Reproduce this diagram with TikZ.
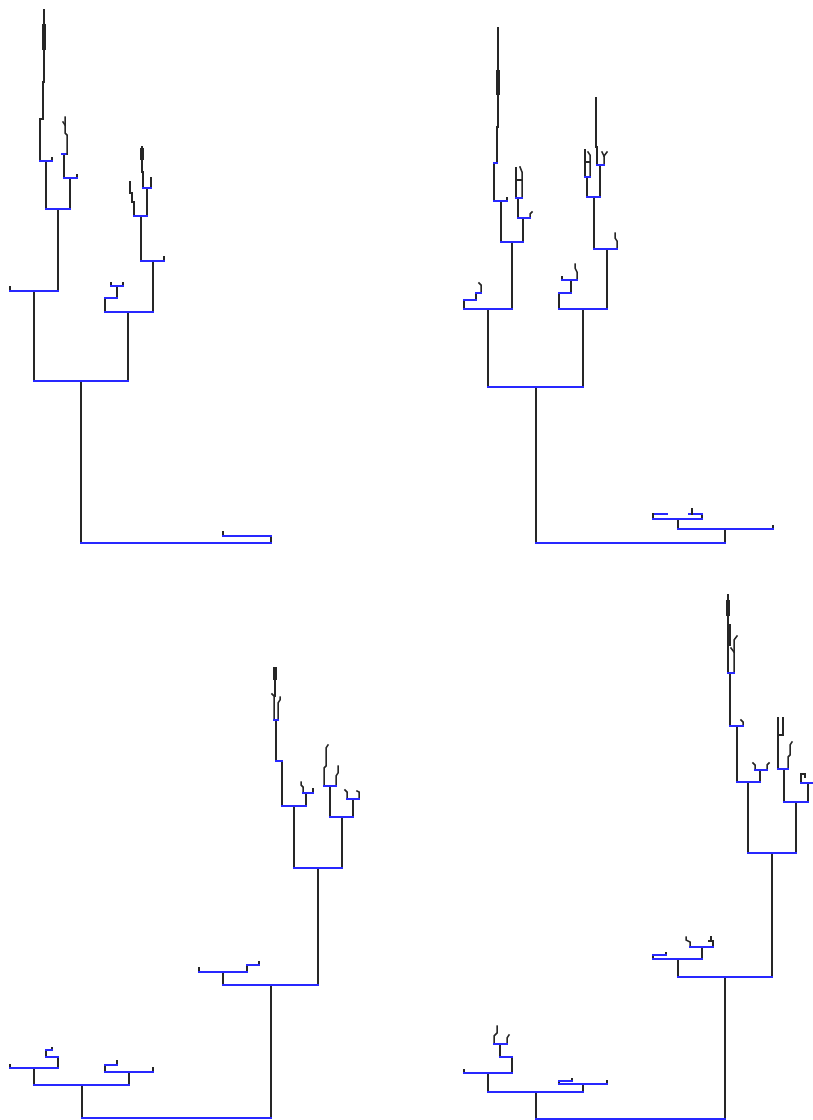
\documentclass[tikz,border=0pt]{standalone}
\definecolor{treeblue}{RGB}{40,40,255}
\tikzset{
  vl/.style={draw=black!85, line width=1.5pt, line cap=rect},
  hl/.style={draw=treeblue, line width=1.5pt, line cap=rect},
  dense/.style={draw=black!85, line width=3.2pt}
}
\newcommand\hseg[3]{\draw[hl] (#2,#1) -- (#3,#1);}
\newcommand\vseg[3]{\draw[vl] (#1,#2) -- (#1,#3);}
\begin{document}
\begin{tikzpicture}[x=1pt,y=-1pt]
\useasboundingbox (0,0) rectangle (812,1120);
\fill[white] (0,0) rectangle (812,1120);

% ================= Panel 1 (top left) =================
\vseg{81}{543}{381}
\vseg{271}{543}{536}
\vseg{223}{536}{532}
\hseg{536}{223}{271}
\hseg{543}{81}{271}
% left branch
\vseg{34}{381}{291}
\vseg{128}{381}{312}
\hseg{381}{34}{128}
\vseg{10}{291}{287}
\vseg{58}{291}{209}
\hseg{291}{10}{58}
\vseg{46}{209}{161}
\vseg{70}{209}{178}
\hseg{209}{46}{70}
\vseg{52}{161}{158}
\vseg{40}{161}{119}
\hseg{161}{40}{52}
\draw[vl] (40,119) -- (43,119) -- (43,82) -- (44,82) -- (44,10);
\draw[dense] (44,24) -- (44,50);
\vseg{77}{178}{175}
\vseg{64}{178}{154}
\hseg{178}{64}{77}
\hseg{154}{62}{67}
\draw[vl] (67,154) -- (67,135) -- (65,133) -- (65,117);
\draw[vl] (65,125) -- (63,122);
% right branch of panel 1
\vseg{105}{312}{298}
\vseg{153}{312}{261}
\hseg{312}{105}{153}
\vseg{117}{298}{286}
\hseg{298}{105}{117}
\vseg{111}{286}{283}
\vseg{123}{286}{283}
\hseg{286}{111}{123}
\vseg{164}{261}{257}
\vseg{141}{261}{216}
\hseg{261}{141}{164}
\draw[vl] (134,216) -- (134,202) -- (132,202) -- (132,193) -- (130,193) -- (130,182);
\vseg{147}{216}{188}
\hseg{216}{134}{147}
\vseg{151}{188}{178}
\draw[vl] (143,188) -- (143,172) -- (142,172) -- (142,147);
\draw[dense] (142,148) -- (142,160);
\hseg{188}{143}{151}

% ================= Panel 2 (top right) =================
\vseg{536}{543}{387}
\vseg{725}{543}{529}
\hseg{543}{536}{725}
\vseg{773}{529}{526}
\vseg{678}{529}{519}
\hseg{529}{678}{773}
\vseg{653}{519}{514}
\vseg{702}{519}{514}
\hseg{519}{653}{702}
\hseg{514}{655}{667}
\hseg{514}{689}{702}
\vseg{692}{514}{509}
% left A2
\vseg{488}{387}{309}
\vseg{583}{387}{309}
\hseg{387}{488}{583}
\draw[vl] (464,309) -- (464,300);
\draw[vl] (476,300) -- (476,293);
\draw[vl] (481,293) -- (481,285) -- (479,283);
\hseg{300}{464}{476}
\hseg{293}{476}{481}
\vseg{512}{309}{242}
\hseg{309}{464}{512}
\vseg{501}{242}{201}
\vseg{523}{242}{218}
\hseg{242}{501}{523}
\vseg{507}{201}{198}
\vseg{494}{201}{163}
\hseg{201}{494}{507}
\draw[vl] (497,163) -- (497,127) -- (498,127) -- (498,28);
\hseg{163}{494}{497}
\draw[dense] (498,70) -- (498,95);
\draw[vl] (530,218) -- (530,214) -- (532,212);
\vseg{518}{218}{198}
\hseg{218}{518}{530}
\draw[vl] (516,198) -- (516,168);
\draw[vl] (522,198) -- (522,172) -- (520,167);
\draw[vl] (516,180) -- (522,180);
\hseg{198}{516}{522}
% right B2
\vseg{559}{309}{293}
\vseg{607}{309}{249}
\hseg{309}{559}{607}
\vseg{571}{293}{280}
\hseg{293}{559}{571}
\vseg{562}{280}{277}
\draw[vl] (577,280) -- (577,272) -- (575,268) -- (575,264);
\hseg{280}{562}{577}
\draw[vl] (617,249) -- (617,241) -- (615,238) -- (615,233);
\vseg{594}{249}{197}
\hseg{249}{594}{617}
\vseg{587}{197}{177}
\vseg{600}{197}{165}
\hseg{197}{587}{600}
\draw[vl] (585,177) -- (585,150);
\draw[vl] (590,177) -- (590,155) -- (588,152);
\draw[vl] (585,162) -- (590,162);
\hseg{177}{585}{590}
\draw[vl] (597,165) -- (597,147) -- (596,147) -- (596,98);
\draw[vl] (604,165) -- (604,156) -- (602,152);
\draw[vl] (604,156) -- (607,152);
\hseg{165}{597}{604}

% ================= Panel 3 (bottom left) =================
\vseg{82}{1118}{1085}
\vseg{271}{1118}{985}
\hseg{1118}{82}{271}
\vseg{34}{1085}{1068}
\vseg{129}{1085}{1072}
\hseg{1085}{34}{129}
\vseg{10}{1068}{1065}
\vseg{58}{1068}{1057}
\hseg{1068}{10}{58}
\vseg{46}{1057}{1050}
\hseg{1057}{46}{58}
\vseg{52}{1050}{1048}
\hseg{1050}{46}{52}
\vseg{153}{1072}{1068}
\vseg{105}{1072}{1065}
\hseg{1072}{105}{153}
\vseg{117}{1065}{1061}
\hseg{1065}{105}{117}
\vseg{223}{985}{972}
\vseg{318}{985}{868}
\hseg{985}{223}{318}
\vseg{199}{972}{968}
\vseg{247}{972}{965}
\hseg{972}{199}{247}
\vseg{259}{965}{962}
\hseg{965}{247}{259}
\vseg{294}{868}{806}
\vseg{342}{868}{817}
\hseg{868}{294}{342}
\vseg{282}{806}{761}
\vseg{306}{806}{793}
\hseg{806}{282}{306}
\vseg{276}{761}{720}
\hseg{761}{276}{282}
\draw[vl] (274,720) -- (274,696) -- (272,694);
\draw[vl] (275,696) -- (275,668);
\draw[dense] (275,667) -- (275,680);
\draw[vl] (278,720) -- (278,703) -- (280,700) -- (280,697);
\hseg{720}{274}{278}
\draw[vl] (303,793) -- (303,787) -- (301,785) -- (301,782);
\vseg{313}{793}{789}
\hseg{793}{303}{313}
\vseg{330}{817}{786}
\vseg{353}{817}{799}
\hseg{817}{330}{353}
\draw[vl] (324,786) -- (324,768) -- (326,766) -- (326,748) -- (328,745);
\draw[vl] (336,786) -- (336,776) -- (338,773) -- (338,766);
\hseg{786}{324}{336}
\draw[vl] (347,799) -- (347,792) -- (345,790);
\draw[vl] (359,799) -- (359,792) -- (357,791);
\hseg{799}{347}{359}

% ================= Panel 4 (bottom right) =================
\vseg{536}{1119}{1092}
\vseg{725}{1119}{977}
\hseg{1119}{536}{725}
\vseg{488}{1092}{1073}
\vseg{583}{1092}{1084}
\hseg{1092}{488}{583}
\vseg{464}{1073}{1070}
\vseg{512}{1073}{1057}
\hseg{1073}{464}{512}
\vseg{500}{1057}{1044}
\hseg{1057}{500}{512}
\draw[vl] (494,1044) -- (494,1036) -- (497,1033) -- (497,1026);
\draw[vl] (507,1044) -- (507,1038) -- (509,1035);
\hseg{1044}{494}{507}
\vseg{607}{1084}{1081}
\vseg{559}{1084}{1081}
\hseg{1084}{559}{607}
\vseg{572}{1081}{1079}
\hseg{1081}{559}{572}
\vseg{678}{977}{959}
\vseg{772}{977}{853}
\hseg{977}{678}{772}
\vseg{653}{959}{955}
\vseg{702}{959}{947}
\hseg{959}{653}{702}
\vseg{666}{955}{953}
\hseg{955}{653}{666}
\draw[vl] (690,947) -- (690,942) -- (686,940) -- (686,937);
\draw[vl] (713,947) -- (713,941) -- (709,941);
\draw[vl] (711,941) -- (711,937);
\hseg{947}{690}{713}
\vseg{748}{853}{782}
\vseg{796}{853}{802}
\hseg{853}{748}{796}
\vseg{737}{782}{726}
\vseg{760}{782}{770}
\hseg{782}{737}{760}
\draw[vl] (743,726) -- (743,722) -- (741,720);
\vseg{730}{726}{673}
\hseg{726}{730}{743}
\draw[vl] (728,673) -- (728,595);
\draw[dense] (729,624) -- (729,646);
\draw[dense] (728,600) -- (728,616);
\draw[vl] (734,673) -- (734,640) -- (737,636);
\draw[vl] (734,652) -- (731,648);
\hseg{673}{728}{734}
\draw[vl] (755,770) -- (755,765) -- (753,763);
\draw[vl] (767,770) -- (767,765) -- (769,763);
\hseg{770}{755}{767}
\vseg{784}{802}{769}
\vseg{808}{802}{783}
\hseg{802}{784}{808}
\draw[vl] (778,769) -- (778,718);
\draw[vl] (783,735) -- (783,718);
\draw[vl] (778,735) -- (783,735);
\draw[vl] (788,769) -- (788,757) -- (790,755) -- (790,745) -- (792,742);
\hseg{769}{778}{788}
\draw[vl] (801,783) -- (801,774) -- (805,774) -- (805,777);
\hseg{783}{801}{812}
\end{tikzpicture}
\end{document}
